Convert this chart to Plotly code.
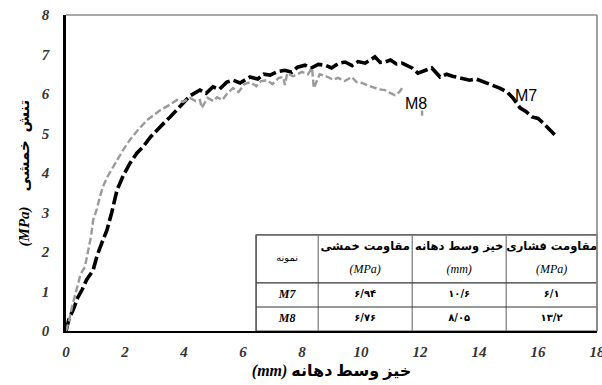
import plotly.graph_objects as go

# ---------------- data ----------------
m7_x = [0, 0.1, 0.25, 0.4, 0.55, 0.7, 0.92, 1.05, 1.2, 1.39, 1.55, 1.73, 1.95, 2.17, 2.4,
        2.61, 2.85, 3.08, 3.3, 3.53, 3.75, 3.97, 4.2, 4.54, 4.75, 4.98, 5.2, 5.45, 5.66,
        5.9, 6.24, 6.5, 6.7, 6.92, 7.15, 7.42, 7.65, 7.85, 8.1, 8.3, 8.55, 8.78, 9.0,
        9.25, 9.46, 9.7, 9.9, 10.14, 10.3, 10.47, 10.65, 10.81, 11.0, 11.2, 11.39, 11.55,
        11.73, 11.93, 12.15, 12.4, 12.68, 12.9, 13.1, 13.36, 13.69, 13.9, 14.2, 14.47,
        14.7, 14.95, 15.15, 15.39, 15.6, 15.8, 16.0, 16.17, 16.4, 16.64]
m7_y = [0, 0.3, 0.55, 0.85, 1.05, 1.3, 1.54, 1.9, 2.2, 2.56, 3.0, 3.57, 3.95, 4.25, 4.5,
        4.66, 4.9, 5.09, 5.25, 5.42, 5.6, 5.77, 5.95, 6.1, 6.02, 6.18, 6.12, 6.3, 6.35,
        6.28, 6.43, 6.38, 6.5, 6.48, 6.56, 6.6, 6.55, 6.68, 6.73, 6.65, 6.75, 6.73, 6.66,
        6.78, 6.81, 6.72, 6.82, 6.78, 6.85, 6.94, 6.8, 6.81, 6.86, 6.76, 6.78, 6.72,
        6.66, 6.53, 6.6, 6.66, 6.43, 6.5, 6.45, 6.41, 6.35, 6.38, 6.3, 6.23,
        6.15, 6.05, 5.9, 5.65, 5.55, 5.42, 5.38, 5.27, 5.1, 4.91]

m8_x = [0, 0.1, 0.2, 0.3, 0.4, 0.5, 0.64, 0.75, 0.85, 0.92, 1.05, 1.15, 1.25, 1.4, 1.55,
        1.73, 1.95, 2.17, 2.45, 2.75, 2.95, 3.19, 3.45, 3.76, 3.97, 4.2, 4.4, 4.54, 4.6,
        4.8, 5.0, 5.12, 5.3, 5.45, 5.66, 5.85, 6.05, 6.24, 6.45, 6.6, 6.81, 7.0, 7.2,
        7.36, 7.42, 7.5, 7.7, 8.0, 8.2, 8.34, 8.4, 8.6, 8.88, 9.05, 9.22, 9.45, 9.69,
        9.85, 10.03, 10.2, 10.37, 10.6, 10.81, 11.0, 11.15, 11.3, 11.42, None, 12.07, 12.07]
m8_y = [0, 0.25, 0.6, 0.9, 1.2, 1.45, 1.62, 2.0, 2.4, 2.81, 3.1, 3.4, 3.65, 3.9, 4.1,
        4.33, 4.6, 4.84, 5.1, 5.34, 5.45, 5.59, 5.7, 5.85, 5.8, 5.9, 5.82, 5.85, 5.65,
        5.9, 5.82, 5.92, 5.85, 6.0, 6.15, 6.05, 6.25, 6.3, 6.2, 6.32, 6.35, 6.25, 6.4,
        6.43, 6.23, 6.53, 6.45, 6.56, 6.5, 6.66, 6.15, 6.5, 6.43, 6.36, 6.41, 6.33, 6.43,
        6.3, 6.28, 6.22, 6.18, 6.12, 6.1, 6.02, 5.97, 6.05, 6.18, None, 5.58, 5.45]

series_names = ["M7", "M8"]

x_ticks = [0, 2, 4, 6, 8, 10, 12, 14, 16, 18]
y_ticks = [0, 1, 2, 3, 4, 5, 6, 7, 8]

x_title = "خیز وسط دهانه"
x_unit = "(mm)"
y_title = "تنش\u00a0\u00a0خمشی"
y_unit = "(MPa)"

table_headers = ["نمونه", "مقاومت خمشی", "خیز وسط دهانه", "مقاومت فشاری"]
table_units = ["", "(MPa)", "(mm)", "(MPa)"]
table_specimens = ["M7", "M8"]
flexural_strength = [6.94, 6.76]
midspan_deflection = [10.6, 8.05]
compressive_strength = [6.1, 13.2]

# ---------------- helpers ----------------
PERSIAN = str.maketrans("0123456789.", "۰۱۲۳۴۵۶۷۸۹/")


def fa(v):
    return f"{v:g}".translate(PERSIAN)


SERIF = "Liberation Serif, DejaVu Serif, serif"
ARAB = "DejaVu Sans, sans-serif"
X_MAX, Y_MAX = 18, 8

fig = go.Figure()
fig.add_trace(go.Scatter(x=m7_x, y=m7_y, mode="lines", name=series_names[0],
                         line=dict(color="#000000", width=3.6, dash="13px,4px"),
                         showlegend=False, hoverinfo="skip"))
fig.add_trace(go.Scatter(x=m8_x, y=m8_y, mode="lines", name=series_names[1],
                         line=dict(color="#9a9a9a", width=2.4, dash="7px,3px"),
                         showlegend=False, hoverinfo="skip"))

# curve labels
fig.add_annotation(x=15.59, y=5.97, text=series_names[0], showarrow=False,
                   font=dict(family="Liberation Sans, Arial", size=16, color="#000"))
fig.add_annotation(x=11.86, y=5.77, text=series_names[1], showarrow=False,
                   font=dict(family="Liberation Sans, Arial", size=16, color="#000"))

# ---------------- table (paper fractions of the plot area) ----------------
col_edges = [0.358, 0.475, 0.652, 0.829, 1.0]
row_edges = [0.304, 0.152, 0.076, 0.0]
fig.add_shape(type="rect", xref="paper", yref="paper", x0=col_edges[0], x1=col_edges[-1],
              y0=row_edges[-1], y1=row_edges[0], fillcolor="white",
              line=dict(color="#555", width=1.2), layer="below")
fig.add_shape(type="line", xref="paper", yref="paper", x0=col_edges[0], x1=col_edges[0],
              y0=row_edges[-1], y1=row_edges[0], line=dict(color="#555", width=1.2))
fig.add_shape(type="line", xref="paper", yref="paper", x0=col_edges[0], x1=col_edges[-1],
              y0=row_edges[0], y1=row_edges[0], line=dict(color="#666", width=1.2))
for cx in col_edges[1:-1]:
    fig.add_shape(type="line", xref="paper", yref="paper", x0=cx, x1=cx,
                  y0=row_edges[-1], y1=row_edges[0], line=dict(color="#777", width=1.2))
for ry in row_edges[1:-1]:
    fig.add_shape(type="line", xref="paper", yref="paper", x0=col_edges[0], x1=col_edges[-1],
                  y0=ry, y1=ry, line=dict(color="#333", width=1.2))

centers = [(col_edges[i] + col_edges[i + 1]) / 2 * X_MAX for i in range(4)]


def add_text(xs, ys, texts, font):
    fig.add_trace(go.Scatter(x=xs, y=ys, text=texts, mode="text", textposition="middle center",
                             textfont=font, showlegend=False, hoverinfo="skip"))


hdr_idx = [i for i, u in enumerate(table_units) if u]
add_text([centers[i] for i in hdr_idx], [0.266 * Y_MAX] * len(hdr_idx),
         [table_headers[i] for i in hdr_idx],
         dict(family=ARAB, size=11.5, color="#000", weight="bold"))
add_text([centers[i] for i in hdr_idx], [0.193 * Y_MAX] * len(hdr_idx),
         [table_units[i] for i in hdr_idx],
         dict(family=SERIF, size=12, color="#000", style="italic"))
add_text([centers[0]], [0.228 * Y_MAX], [table_headers[0]],
         dict(family=ARAB, size=10, color="#000"))

row_centers = [(row_edges[1] + row_edges[2]) / 2 * Y_MAX, (row_edges[2] + row_edges[3]) / 2 * Y_MAX]
add_text([centers[0]] * 2, row_centers, table_specimens,
         dict(family=SERIF, size=12, color="#000", weight="bold", style="italic"))
for c, vals in enumerate([flexural_strength, midspan_deflection, compressive_strength]):
    add_text([centers[c + 1]] * 2, row_centers, [fa(v) for v in vals],
             dict(family=ARAB, size=10, color="#000", weight="bold"))

# top / right frame
fig.add_shape(type="line", xref="paper", yref="paper", x0=0, x1=1, y0=1, y1=1,
              line=dict(color="#8a8a8a", width=1.6))
fig.add_shape(type="line", xref="paper", yref="paper", x0=1, x1=1, y0=0, y1=1,
              line=dict(color="#8a8a8a", width=1.6))

tick_font = dict(family=SERIF, size=15, color="#333333", weight="bold", style="italic")

fig.update_layout(
    width=602, height=385,
    margin=dict(l=66, r=5, t=15, b=54, autoexpand=False),
    paper_bgcolor="white", plot_bgcolor="white",
    xaxis=dict(range=[0, X_MAX], tickvals=x_ticks, showgrid=False, zeroline=False,
               showline=True, linecolor="#000", linewidth=2, ticks="", automargin=False,
               ticklabelstandoff=6, ticklabeloverflow="allow", tickfont=tick_font,
               title=dict(text=f"<i>{x_unit}</i> {x_title}", standoff=6,
                          font=dict(family=SERIF + ", DejaVu Sans", size=16, color="#000",
                                    weight="bold"))),
    yaxis=dict(range=[0, Y_MAX], tickvals=y_ticks, showgrid=False, zeroline=False,
               showline=True, linecolor="#000", linewidth=2.5, ticks="", automargin=False,
               ticklabelstandoff=11, tickfont=tick_font,
               title=dict(text=f"\u00a0\u00a0\u00a0\u00a0<i>{y_unit}</i>\u00a0\u00a0\u00a0\u00a0{y_title}",
                          standoff=8,
                          font=dict(family=SERIF + ", DejaVu Sans", size=15, color="#000",
                                    weight="bold"))),
)

fig.write_html("out.html", config={"displayModeBar": False},
               post_script="document.body.style.margin='0px';")
